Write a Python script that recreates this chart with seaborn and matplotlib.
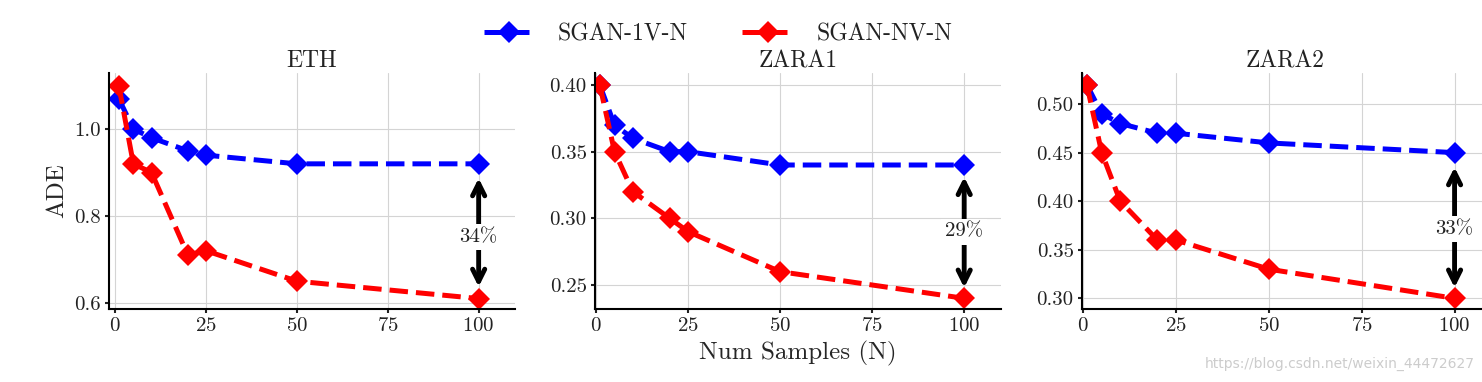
import pandas as pd
import matplotlib
matplotlib.use("Agg")
import matplotlib.pyplot as plt
import seaborn as sns

# Data
num_samples = [1, 5, 10, 20, 25, 50, 100]
datasets = ["ETH", "ZARA1", "ZARA2"]
labels = ["SGAN-1V-N", "SGAN-NV-N"]

eth_1v = [1.07, 1.00, 0.98, 0.95, 0.94, 0.92, 0.92]
eth_nv = [1.10, 0.92, 0.90, 0.71, 0.72, 0.65, 0.61]
zara1_1v = [0.40, 0.37, 0.36, 0.35, 0.35, 0.34, 0.34]
zara1_nv = [0.40, 0.35, 0.32, 0.30, 0.29, 0.26, 0.24]
zara2_1v = [0.52, 0.49, 0.48, 0.47, 0.47, 0.46, 0.45]
zara2_nv = [0.52, 0.45, 0.40, 0.36, 0.36, 0.33, 0.30]
gains = ["34%", "29%", "33%"]

series = {
    "ETH": (eth_1v, eth_nv),
    "ZARA1": (zara1_1v, zara1_nv),
    "ZARA2": (zara2_1v, zara2_nv),
}

sns.set_style("whitegrid", {"grid.color": "#d4d4d4", "axes.edgecolor": "black"})
plt.rcParams["font.family"] = ["cmr10", "DejaVu Serif"]
plt.rcParams["mathtext.fontset"] = "cm"
plt.rcParams["axes.formatter.use_mathtext"] = True
plt.rcParams["text.color"] = "#222222"
plt.rcParams["xtick.color"] = "#222222"
plt.rcParams["ytick.color"] = "#222222"

fig = plt.figure(figsize=(14.82, 3.82), dpi=100)
positions = [
    [109 / 1482, 73 / 382, 406 / 1482, 236 / 382],
    [595 / 1482, 73 / 382, 406 / 1482, 236 / 382],
    [1082 / 1482, 73 / 382, 406 / 1482, 236 / 382],
]
for p in positions:
    p[1] = 1 - (p[1] + p[3])

xlims = [(-1.7, 110), (-0.3, 110), (-0.3, 109)]
ylims = [(0.586, 1.129), (0.232, 0.409), (0.289, 0.532)]
yticks = [[0.6, 0.8, 1.0], [0.25, 0.30, 0.35, 0.40], [0.30, 0.35, 0.40, 0.45, 0.50]]
yfmt = ["{:.1f}", "{:.2f}", "{:.2f}"]
# arrow ends (bottom, top) and text position
arrows = [(0.637, 0.887, 0.752), (0.248, 0.331, 0.290), (0.311, 0.435, 0.371)]

colors = ["blue", "red"]
for i, name in enumerate(datasets):
    ax = fig.add_axes(positions[i])
    df = pd.DataFrame({
        "N": num_samples * 2,
        "ADE": list(series[name][0]) + list(series[name][1]),
        "model": [labels[0]] * 7 + [labels[1]] * 7,
    })
    for lab, col in zip(labels, colors):
        sns.lineplot(data=df[df["model"] == lab], x="N", y="ADE", ax=ax,
                     color=col, marker="D", markersize=11, markeredgewidth=0,
                     linewidth=3.6, linestyle="--", label=lab, legend=False)
    ax.set_xlim(*xlims[i])
    ax.set_ylim(*ylims[i])
    ax.set_xticks([0, 25, 50, 75, 100])
    ax.set_yticks(yticks[i])
    ax.set_yticklabels([yfmt[i].format(v) for v in yticks[i]])
    ax.tick_params(labelsize=15, length=3, width=1.5, left=True, bottom=True, pad=3)
    ax.set_title(name, fontsize=17, pad=4)
    ax.set_xlabel("Num Samples (N)" if i == 1 else "", fontsize=18)
    ax.set_ylabel("ADE" if i == 0 else "", fontsize=18)
    for s in ["top", "right"]:
        ax.spines[s].set_visible(False)
    for s in ["left", "bottom"]:
        ax.spines[s].set_linewidth(1.5)
        ax.spines[s].set_color("black")
    lo, hi, mid = arrows[i]
    ax.annotate("", xy=(100, hi), xytext=(100, lo),
                arrowprops=dict(arrowstyle="<->", lw=3.5, color="black",
                                mutation_scale=22, shrinkA=0, shrinkB=0))
    ax.text(100, mid, gains[i], ha="center", va="center", fontsize=15,
            bbox=dict(facecolor="white", edgecolor="none", pad=3))
    if i == 0:
        handles, hlabels = ax.get_legend_handles_labels()

fig.legend(handles, hlabels, loc="upper center", bbox_to_anchor=(0.4845, 0.995),
           ncol=2, frameon=False, fontsize=17, handlelength=2.2,
           handletextpad=0.95, columnspacing=2.3)

fig.text(0.995, 0.03, "https://blog.csdn.net/weixin_44472627", ha="right",
         va="bottom", fontsize=10, color="#cccccc", family="DejaVu Sans")

fig.savefig("out.png", dpi=100)
